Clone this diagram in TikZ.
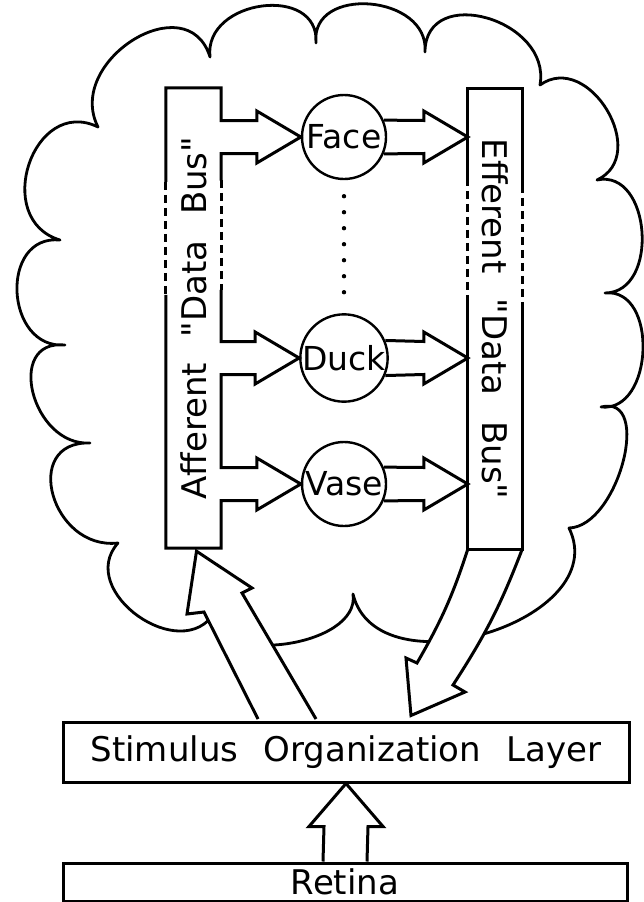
\documentclass[tikz,border=0pt]{standalone}
\usepackage{fontspec}
\setmainfont{DejaVu Sans}
\usetikzlibrary{calc}

\newcommand{\wgap}{\hspace{0.75em}}

\begin{document}
\begin{tikzpicture}[
        x=1pt, y=-1pt,
        outline/.style={line width=3pt},
        dashes/.style={outline, dash pattern=on 8pt off 5pt},
        cloud/.style={line width=2.8pt, line join=round},
        percept/.style={
            circle,
            draw,
            line width=2.4pt,
            fill=white,
            minimum size=84pt,
            inner sep=0pt,
            font=\fontsize{33}{38}\selectfont
        },
        bus/.style={
            rectangle,
            inner sep=0pt,
            minimum width=55pt,
            minimum height=460pt,
            font=\fontsize{34}{40}\selectfont
        },
        layerbox/.style={
            rectangle,
            draw,
            line width=3pt,
            fill=white,
            inner sep=0pt,
            font=\fontsize{34}{40}\selectfont
        }
    ]

    \useasboundingbox (0,0) rectangle (644,902);

    % cloud: cusps k, bump tops a
    \coordinate (k1) at (210,57);   \coordinate (a1) at (262,6);
    \coordinate (k2) at (316,43);   \coordinate (a2) at (370,4);
    \coordinate (k3) at (425,52);   \coordinate (a3) at (487,18);
    \coordinate (k4) at (540,85);   \coordinate (a4) at (607,110);
    \coordinate (k5) at (597,180);  \coordinate (a5) at (642,232);
    \coordinate (k6) at (605,293);  \coordinate (a6) at (643,350);
    \coordinate (k7) at (601,407);  \coordinate (a7) at (623,462);
    \coordinate (k8) at (569,528);  \coordinate (a8) at (487,633);
    \coordinate (k9) at (353,594);  \coordinate (a9) at (285,644);
    \coordinate (k10) at (215,612); \coordinate (a10) at (138,616);
    \coordinate (k11) at (118,543); \coordinate (a11) at (53,495);
    \coordinate (k12) at (90,443);  \coordinate (a12) at (33,393);
    \coordinate (k13) at (65,345);  \coordinate (a13) at (17,292);
    \coordinate (k14) at (60,240);  \coordinate (a14) at (29,164);
    \coordinate (k15) at (98,127);  \coordinate (a15) at (133,40);

    \draw[cloud] (k1)
        \foreach \a/\p/\b in {k1/a1/k2, k2/a2/k3, k3/a3/k4, k4/a4/k5, k5/a5/k6,
                              k6/a6/k7, k7/a7/k8, k8/a8/k9, k9/a9/k10, k10/a10/k11,
                              k11/a11/k12, k12/a12/k13, k13/a13/k14, k14/a14/k15,
                              k15/a15/k1}
        { .. controls ($0.383*(\a)+1.333*(\p)-0.716*(\b)$)
             and ($0.383*(\b)+1.333*(\p)-0.716*(\a)$) .. (\b) } -- cycle;

    % buses and percepts
    \node[bus] (aff) at (193.5,318)
        {\rotatebox{90}{Afferent\wgap\textquotedbl Data\wgap Bus\textquotedbl}};
    \node[bus, minimum width=54pt] (eff) at (495,319)
        {\rotatebox{-90}{Efferent\wgap\textquotedbl Data\wgap Bus\textquotedbl}};

    \node[percept] (face) at (344,137) {Face};
    \node[percept] (duck) at (344,358) {Duck};
    \node[percept] (vase) at (344,484) {Vase};

    \foreach \k in {1,...,7}
        \fill ($(face.south)+(0,16*\k)$) circle (2.2pt);

    % layers
    \node[layerbox, minimum width=566pt, minimum height=60pt] (stim) at (346,752)
        {Stimulus\wgap Organization\wgap Layer};
    \node[layerbox, minimum width=564pt, minimum height=38pt] (retina) at (345,882) {Retina};

    % big arrows between layer and buses
    \draw[outline, fill=white] ($(stim.north)+(-88,-1.5)$) -- (204,612) -- (187,614)
        -- ($(aff.south)+(3,3)$) -- (252,588) -- (242,593) -- ($(stim.north)+(-30,-1.5)$);
    \draw[outline, fill=white] (eff.south west) to[bend left=6] (417,663) -- (406,658)
        -- ($(stim.north)+(65,-5)$) -- (465,692) -- (453,685) to[bend right=6] (eff.south east);

    % afferent bus with the Face input
    \draw[outline] ($(aff.north west)+(0,94)$) -- (aff.north west) -- (aff.north east)
        -- ($(aff.east |- face)+(0,-16.5)$) -- ($(face.west)+(-44,-16.5)$) -- ++(0,-9.5)
        -- (face.west) -- ++(-44,26) -- ++(0,-9.5) -- ($(aff.east |- face)+(0,16.5)$) -- ++(0,27);
    \draw[dashes] ($(aff.north west)+(0,94)$) -- ++(0,113);
    \draw[dashes] ($(aff.north east)+(0,92)$) -- ++(0,110);
    % afferent bus with the Duck and Vase inputs
    \draw[outline] ($(aff.north east)+(0,202)$)
        -- ($(aff.east |- duck)+(0,-16.5)$) -- ($(duck.west)+(-44,-16.5)$) -- ++(0,-9.5)
        -- (duck.west) -- ++(-44,26) -- ++(0,-9.5) -- ($(aff.east |- duck)+(0,16.5)$)
        -- ($(aff.east |- vase)+(0,-16.5)$) -- ($(vase.west)+(-44,-16.5)$) -- ++(0,-9.5)
        -- (vase.west) -- ++(-44,26) -- ++(0,-9.5) -- ($(aff.east |- vase)+(0,16.5)$)
        -- (aff.south east) -- (aff.south west) -- ($(aff.north west)+(0,207)$);

    % efferent bus
    \draw[outline] ($(eff.north west)+(0,89)$) -- (eff.north west) -- (eff.north east) -- ++(0,96);
    \draw[dashes] ($(eff.north west)+(0,89)$) -- ++(0,122);
    \draw[dashes] ($(eff.north east)+(0,96)$) -- ++(0,120);
    \draw[outline] ($(eff.north west)+(0,211)$) -- (eff.south west) -- (eff.south east)
        -- ($(eff.north east)+(0,216)$);

    % outputs of the percepts
    \foreach \n in {face, duck, vase}
        \draw[outline] (\n.23) -- ($(eff.west |- \n)+(-44,-16.5)$) -- ++(0,-9.5)
            -- (eff.west |- \n) -- ++(-44,26) -- ++(0,-9.5) -- (\n.-23);

    % retina to layer
    \draw[outline] ($(retina.north)+(-22,0)$) -- ($(stim.south)+(-22,43)$) -- ++(-15,0)
        -- (stim.south) -- ++(37,43) -- ++(-15,0) -- ($(retina.north)+(22,0)$);

\end{tikzpicture}
\end{document}
